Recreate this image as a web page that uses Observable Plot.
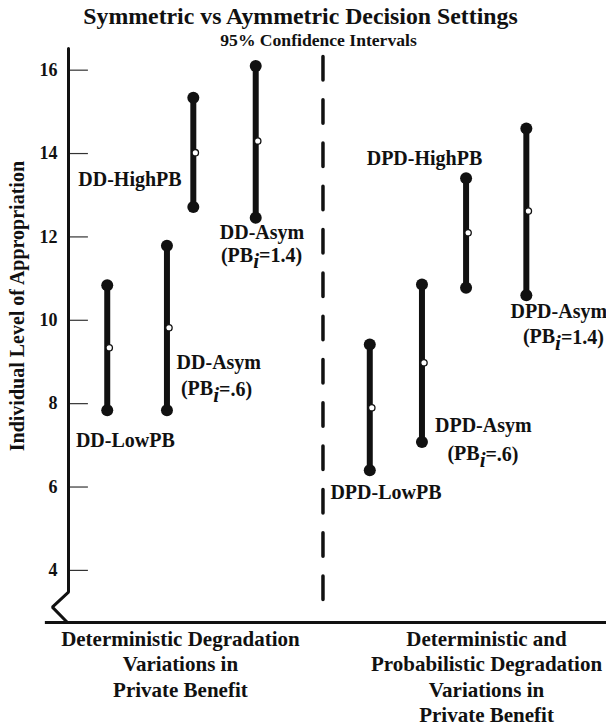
<!DOCTYPE html>
<html><head><meta charset="utf-8">
<script src="https://cdn.jsdelivr.net/npm/d3@7"></script>
<script src="https://cdn.jsdelivr.net/npm/@observablehq/plot@0.6"></script>
<style>html,body{margin:0;padding:0;background:#fff;}</style>
</head><body><div id="chart"></div>
<script>
// ---- data ----
const conditions = ["DD-LowPB", "DD-Asym (PBi=.6)", "DD-HighPB", "DD-Asym (PBi=1.4)",
                    "DPD-LowPB", "DPD-Asym (PBi=.6)", "DPD-HighPB", "DPD-Asym (PBi=1.4)"];
const slots = [0.72, 1.83, 2.32, 3.48, 5.60, 6.57, 7.39, 8.51];   // horizontal slot of each interval
const lower = [7.84, 7.84, 12.72, 12.46, 6.40, 7.08, 10.78, 10.60];
const upper = [10.84, 11.79, 15.34, 16.10, 9.42, 10.86, 13.41, 14.60];
const means = [9.34, 9.82, 14.02, 14.30, 7.90, 8.98, 12.10, 12.62];
const yTicks = [4, 6, 8, 10, 12, 14, 16];
const dividerSlot = 4.73;

const labelText = ["DD-HighPB", "DD-Asym", "(PB_i=1.4)", "DD-Asym", "(PB_i=.6)", "DD-LowPB",
                   "DPD-HighPB", "DPD-Asym", "(PB_i=1.4)", "DPD-Asym", "(PB_i=.6)", "DPD-LowPB"];
const labelSlot = [1.143, 3.597, 3.587, 2.794, 2.751, 1.056, 6.617, 9.113, 9.2, 7.71, 7.704, 5.901];
const labelY    = [13.22, 11.96, 11.40, 8.84, 8.20, 6.96, 13.72, 10.05, 9.45, 7.32, 6.64, 5.72];

const groupText = ["Deterministic Degradation\nVariations in\nPrivate Benefit",
                   "Deterministic and\nProbabilistic Degradation\nVariations in\nPrivate Benefit"];
const groupSlot = [2.08, 7.77];

const title = "Symmetric vs Aymmetric Decision Settings";
const subtitle = "95% Confidence Intervals";
const yLabel = "Individual Level of Appropriation";

// axis with break (in data units)
const axisBreak = [{x: 0, y: 16.52}, {x: 0, y: 3.48}, {x: -0.30, y: 3.12}, {x: -0.02, y: 2.75}];

// ---- build tables ----
const bars = conditions.map((c, i) => ({c, x: slots[i], lo: lower[i], hi: upper[i], m: means[i]}));
const labels = labelText.map((t, i) => ({t, x: labelSlot[i], y: labelY[i]}));
const groups = groupText.map((t, i) => ({t, x: groupSlot[i]}));
const ink = "#111";

const chart = Plot.plot({
  width: 606, height: 726,
  marginLeft: 68, marginRight: 0, marginTop: 48, marginBottom: 104,
  x: {domain: [0, 10], axis: null},
  y: {domain: [2.75, 16.52]},
  style: {fontFamily: "'Liberation Serif', 'Times New Roman', serif", fontWeight: "bold", background: "#fff", color: ink},
  marks: [
    Plot.axisY(yTicks, {tickSize: 0, tickPadding: 11, fontSize: 18, fontWeight: "bold", label: null, fill: ink}),
    Plot.ruleY(yTicks, {x1: 0, x2: 0.37, stroke: "#333", strokeWidth: 1.2}),
    Plot.line(axisBreak, {x: "x", y: "y", stroke: ink, strokeWidth: 3, strokeLinejoin: "miter"}),
    Plot.ruleY([2.75], {x1: -0.43, x2: 10, stroke: ink, strokeWidth: 3}),
    Plot.ruleX([dividerSlot], {y1: 16.318, y2: 3.28, stroke: ink, strokeWidth: 3.5, strokeDasharray: "23.5,19.8", strokeLinecap: "round"}),
    Plot.ruleX(bars, {x: "x", y1: "lo", y2: "hi", stroke: ink, strokeWidth: 6}),
    Plot.dot(bars, {x: "x", y: "lo", r: 6, fill: ink}),
    Plot.dot(bars, {x: "x", y: "hi", r: 6, fill: ink}),
    Plot.dot(bars, {x: "x", y: "m", r: 3.2, fill: "#fff", stroke: ink, strokeWidth: 1.3, dx: 2}),
    Plot.text(labels, {x: "x", y: "y", text: "t", fontSize: 20, lineAnchor: "bottom", fill: ink}),
    Plot.text(groups, {x: "x", text: "t", frameAnchor: "bottom", lineAnchor: "top", lineHeight: 1.215, dy: 5, fontSize: 21, fill: ink}),
    Plot.text([title], {frameAnchor: "top", dx: -37, dy: -24.5, lineAnchor: "bottom", fontSize: 23.8, fill: ink}),
    Plot.text([subtitle], {frameAnchor: "top", dx: -19, dy: -2.5, lineAnchor: "bottom", fontSize: 17.6, fill: ink}),
    Plot.text([yLabel], {frameAnchor: "left", y: [10.34], dx: -51, rotate: -90, textAnchor: "middle", fontSize: 20, fill: ink})
  ]
});

// subscript italic i in "PB_i"
const NS = "http://www.w3.org/2000/svg";
chart.querySelectorAll("text").forEach(t => {
  if (t.children.length === 0 && t.textContent.includes("_i")) {
    const [a, b] = t.textContent.split("_i");
    t.textContent = "";
    const ta = document.createElementNS(NS, "tspan"); ta.textContent = a;
    const ti = document.createElementNS(NS, "tspan"); ti.textContent = "i";
    ti.setAttribute("font-style", "italic"); ti.setAttribute("dy", "0.3em"); ti.setAttribute("font-size", "1.05em");
    const tb = document.createElementNS(NS, "tspan"); tb.textContent = b; tb.setAttribute("dy", "-0.3em");
    t.append(ta, ti, tb);
  }
});
document.getElementById("chart").append(chart);
</script>
</body></html>
